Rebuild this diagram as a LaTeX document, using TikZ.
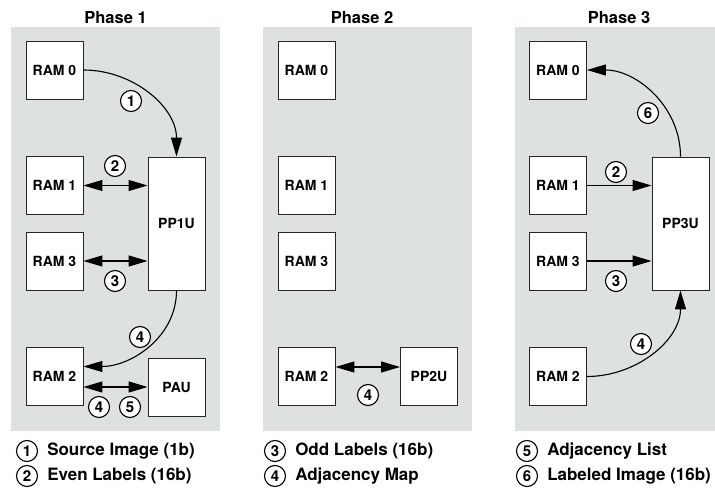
\documentclass[tikz,border=0pt]{standalone}
\usepackage{fontspec}
\setmainfont{TeX Gyre Heros}
\usepackage{tikz}
\usetikzlibrary{arrows.meta,positioning}
\definecolor{panelgray}{RGB}{222,226,222}

\begin{document}
\begin{tikzpicture}[x=1pt,y=1pt,
  box/.style={draw=black!85,fill=white,line width=0.9pt,inner sep=0pt,
    minimum width=57pt,minimum height=58pt,
    font=\bfseries\fontsize{14}{14}\selectfont},
  tall/.style={box,minimum height=133pt},
  title/.style={font=\bfseries\fontsize{16.5}{16.5}\selectfont},
  num/.style={circle,draw,fill=white,line width=1.1pt,inner sep=0pt,
    minimum size=21pt,font=\bfseries\fontsize{15}{15}\selectfont},
  key/.style={anchor=west,inner sep=0pt,
    font=\bfseries\fontsize{17}{17}\selectfont},
  arr/.style={line width=1.1pt,-{Triangle[length=19pt,width=11pt]}},
  dbl/.style={line width=1.1pt,
    {Triangle[length=19pt,width=11pt]}-{Triangle[length=19pt,width=11pt]}}]
  \useasboundingbox (0,0) rectangle (715,-494);
  % grey panels
  \fill[panelgray] (11,-27) rectangle (220,-431);
  \fill[panelgray] (263,-27) rectangle (472,-431);
  \fill[panelgray] (515,-27) rectangle (715,-431);
  \node[title] (ttlA) at (115.5,-18) {Phase 1};
  \node[title] (ttlB) at (362,-18) {Phase 2};
  \node[title] (ttlC) at (619,-18) {Phase 3};
  % phase 1
  \node[box] (ramA0) at (54.5,-70) {RAM 0};
  \node[box] (ramA1) at (54.5,-185.5) {RAM 1};
  \node[box] (ramA3) at (54.5,-261) {RAM 3};
  \node[box] (ramA2) at (54.5,-376.5) {RAM 2};
  \node[tall] (ppA) at (176.5,-223.5) {PP1U};
  \node[box] (pauA) at (176.5,-387) {PAU};
  \draw[arr] (ramA0.east) to[out=0,in=90] (ppA.north);
  \draw[dbl] (ramA1.east) -- (ramA1.east -| ppA.west);
  \draw[dbl] (ramA3.east) -- (ramA3.east -| ppA.west);
  \draw[arr] (ppA.south) to[out=-90,in=0] ([yshift=10pt]ramA2.east);
  \draw[dbl] (pauA.west -| ramA2.east) -- (pauA.west);
  \node[num] (nA1) at (131,-101) {1};
  \node[num] (nA2) at (115,-166) {2};
  \node[num] (nA3) at (115,-281) {3};
  \node[num] (nA4) at (140,-337) {4};
  \node[num] (nA5) at (99,-407) {4};
  \node[num] (nA6) at (130,-407) {5};
  % phase 2
  \node[box] (ramB0) at (306.5,-70) {RAM 0};
  \node[box] (ramB1) at (306.5,-185.5) {RAM 1};
  \node[box] (ramB3) at (306.5,-261) {RAM 3};
  \node[box] (ramB2) at (306.5,-376.5) {RAM 2};
  \node[box] (ppB) at (429,-376.5) {PP2U};
  \draw[dbl] ([yshift=9.5pt]ramB2.east) -- ([yshift=9.5pt]ppB.west);
  \node[num] (nB4) at (368,-395) {4};
  % phase 3
  \node[box] (ramC0) at (558,-70) {RAM 0};
  \node[box] (ramC1) at (558,-185.5) {RAM 1};
  \node[box] (ramC3) at (558,-261) {RAM 3};
  \node[box] (ramC2) at (558,-376.5) {RAM 2};
  \node[tall] (ppC) at (680.5,-223.5) {PP3U};
  \draw[arr] (ppC.north) to[out=90,in=0] (ramC0.east);
  \draw[arr] (ramC1.east) -- (ramC1.east -| ppC.west);
  \draw[arr] (ramC3.east) -- (ramC3.east -| ppC.west);
  \draw[arr] (ramC2.east) to[out=0,in=-90] (ppC.south);
  \node[num] (nC6) at (648,-113) {6};
  \node[num] (nC2) at (616,-172) {2};
  \node[num] (nC3) at (616,-281) {3};
  \node[num] (nC4) at (641,-344) {4};
  % legend
  \node[num] (keyA1) at (27,-451) {1};
  \node[key,right=9pt of keyA1] {Source Image (1b)};
  \node[num] (keyA2) at (27,-476) {2};
  \node[key,right=9pt of keyA2] {Even Labels (16b)};
  \node[num] (keyB3) at (275,-451) {3};
  \node[key,right=9pt of keyB3] {Odd Labels (16b)};
  \node[num] (keyB4) at (275,-476) {4};
  \node[key,right=9pt of keyB4] {Adjacency Map};
  \node[num] (keyC5) at (527,-451) {5};
  \node[key,right=9pt of keyC5] {Adjacency List};
  \node[num] (keyC6) at (527,-476) {6};
  \node[key,right=9pt of keyC6] {Labeled Image (16b)};
\end{tikzpicture}
\end{document}
